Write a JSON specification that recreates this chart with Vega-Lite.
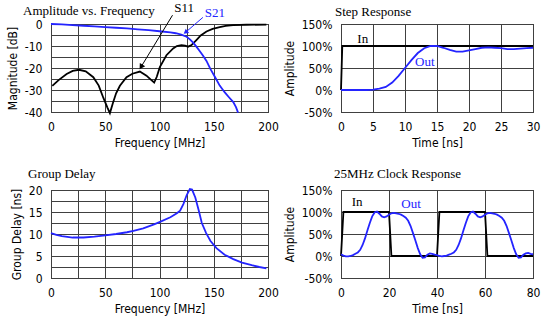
{
  "$schema": "https://vega.github.io/schema/vega-lite/v6.json",
  "padding": {"left": 5, "top": 1, "right": 5, "bottom": 5},
  "background": "white",
  "config": {
    "view": {"stroke": "black", "strokeWidth": 1},
    "axis": {
      "grid": true, "gridColor": "#404040", "gridOpacity": 1, "gridWidth": 1,
      "domain": false, "ticks": false, "tickCount": 50,
      "labelFont": "DejaVu Sans Condensed, Liberation Sans, sans-serif", "labelFontSize": 12, "labelColor": "black",
      "labelPadding": 9, "labelFlush": false, "labelOverlap": false,
      "titleFont": "DejaVu Sans Condensed, Liberation Sans, sans-serif", "titleFontSize": 12, "titleFontWeight": "normal",
      "titleColor": "black", "titlePadding": 5
    },
    "title": {"font": "Liberation Serif", "fontSize": 13, "fontWeight": "normal", "anchor": "start", "frame": "group", "color": "black", "offset": 5},
    "text": {"font": "Liberation Serif", "fontSize": 13}
  },
  "datasets": {
    "mag": [
      {"f": 1.2, "db": -28.1, "s": "S11"}, {"f": 7, "db": -25.5, "s": "S11"}, {"f": 14.4, "db": -22.7, "s": "S11"}, {"f": 20, "db": -21.3, "s": "S11"}, {"f": 25.8, "db": -20.8, "s": "S11"}, {"f": 32, "db": -21.5, "s": "S11"}, {"f": 39, "db": -24.2, "s": "S11"}, {"f": 44, "db": -28, "s": "S11"}, {"f": 48.2, "db": -33.5, "s": "S11"}, {"f": 52, "db": -38, "s": "S11"}, {"f": 54.3, "db": -40.5, "s": "S11"}, {"f": 57, "db": -36, "s": "S11"}, {"f": 60, "db": -31.5, "s": "S11"}, {"f": 63.5, "db": -28.1, "s": "S11"}, {"f": 69.6, "db": -24.2, "s": "S11"}, {"f": 75, "db": -22.6, "s": "S11"}, {"f": 81.9, "db": -21.6, "s": "S11"}, {"f": 88, "db": -23.5, "s": "S11"}, {"f": 92, "db": -25.3, "s": "S11"}, {"f": 95.1, "db": -26.6, "s": "S11"}, {"f": 97.5, "db": -24, "s": "S11"}, {"f": 100.3, "db": -19.6, "s": "S11"}, {"f": 106.4, "db": -14.2, "s": "S11"}, {"f": 112.6, "db": -11.1, "s": "S11"}, {"f": 116, "db": -10, "s": "S11"}, {"f": 120.2, "db": -9.6, "s": "S11"}, {"f": 123.5, "db": -9.8, "s": "S11"}, {"f": 126.4, "db": -10.3, "s": "S11"}, {"f": 129.5, "db": -9.6, "s": "S11"}, {"f": 134, "db": -7.3, "s": "S11"}, {"f": 138, "db": -5.2, "s": "S11"}, {"f": 143.3, "db": -3.4, "s": "S11"}, {"f": 149, "db": -2.2, "s": "S11"}, {"f": 155.5, "db": -1.4, "s": "S11"}, {"f": 161, "db": -0.9, "s": "S11"}, {"f": 167.8, "db": -0.5, "s": "S11"}, {"f": 180, "db": -0.35, "s": "S11"}, {"f": 198.5, "db": -0.3, "s": "S11"},
      {"f": 0, "db": 0, "s": "S21"}, {"f": 10, "db": -0.2, "s": "S21"}, {"f": 20, "db": -0.5, "s": "S21"}, {"f": 30, "db": -0.8, "s": "S21"}, {"f": 40, "db": -1.1, "s": "S21"}, {"f": 50, "db": -1.4, "s": "S21"}, {"f": 60, "db": -1.7, "s": "S21"}, {"f": 70, "db": -2.0, "s": "S21"}, {"f": 80, "db": -2.4, "s": "S21"}, {"f": 90, "db": -2.8, "s": "S21"}, {"f": 100, "db": -3.3, "s": "S21"}, {"f": 110, "db": -3.8, "s": "S21"}, {"f": 115, "db": -4.2, "s": "S21"}, {"f": 120, "db": -4.8, "s": "S21"}, {"f": 125, "db": -5.8, "s": "S21"}, {"f": 128, "db": -7, "s": "S21"}, {"f": 131, "db": -8.5, "s": "S21"}, {"f": 134, "db": -10.3, "s": "S21"}, {"f": 137, "db": -12.3, "s": "S21"}, {"f": 140, "db": -14.3, "s": "S21"}, {"f": 143.3, "db": -16.8, "s": "S21"}, {"f": 147, "db": -20.5, "s": "S21"}, {"f": 151, "db": -24, "s": "S21"}, {"f": 155.5, "db": -28, "s": "S21"}, {"f": 160, "db": -31, "s": "S21"}, {"f": 164, "db": -33.3, "s": "S21"}, {"f": 168, "db": -35.5, "s": "S21"}, {"f": 170.5, "db": -37.8, "s": "S21"}, {"f": 172.4, "db": -40.3, "s": "S21"}
    ],
    "magArrows": [
      {"s": "S11", "f0": 112, "db0": 4, "f1": 83, "db1": -19.5},
      {"s": "S21", "f0": 140, "db0": 3, "f1": 124, "db1": -3.8}
    ],
    "magLabels": [
      {"s": "S11", "f": 122.6, "db": 7.3, "text": "S11"},
      {"s": "S21", "f": 151, "db": 5, "text": "S21"}
    ],
    "step": [
      {"t": 0, "a": 0, "s": "In"}, {"t": 0.2, "a": 100, "s": "In"}, {"t": 30, "a": 100, "s": "In"},
      {"t": 0, "a": 0, "s": "Out"}, {"t": 4, "a": 0, "s": "Out"}, {"t": 5, "a": 1, "s": "Out"}, {"t": 6, "a": 3, "s": "Out"}, {"t": 7, "a": 7, "s": "Out"}, {"t": 8, "a": 17, "s": "Out"}, {"t": 9, "a": 32, "s": "Out"}, {"t": 10, "a": 50, "s": "Out"}, {"t": 11, "a": 68, "s": "Out"}, {"t": 12, "a": 84, "s": "Out"}, {"t": 13, "a": 95, "s": "Out"}, {"t": 14, "a": 100, "s": "Out"}, {"t": 15, "a": 100, "s": "Out"}, {"t": 16, "a": 96, "s": "Out"}, {"t": 17, "a": 91, "s": "Out"}, {"t": 18, "a": 87, "s": "Out"}, {"t": 19, "a": 87, "s": "Out"}, {"t": 20, "a": 90, "s": "Out"}, {"t": 21, "a": 93, "s": "Out"}, {"t": 22, "a": 96, "s": "Out"}, {"t": 23, "a": 97, "s": "Out"}, {"t": 24, "a": 96, "s": "Out"}, {"t": 25, "a": 95, "s": "Out"}, {"t": 26, "a": 93, "s": "Out"}, {"t": 27, "a": 93, "s": "Out"}, {"t": 28, "a": 94, "s": "Out"}, {"t": 29, "a": 95, "s": "Out"}, {"t": 30, "a": 96, "s": "Out"}
    ],
    "stepLabels": [
      {"s": "In", "t": 3.4, "a": 116, "text": "In"},
      {"s": "Out", "t": 13.1, "a": 63.6, "text": "Out"}
    ],
    "gd": [
      {"f": 0, "d": 10.2}, {"f": 5, "d": 9.8}, {"f": 10, "d": 9.5}, {"f": 20, "d": 9.2}, {"f": 30, "d": 9.2}, {"f": 40, "d": 9.4}, {"f": 50, "d": 9.7}, {"f": 60, "d": 10.0}, {"f": 70, "d": 10.4}, {"f": 76, "d": 10.7}, {"f": 85, "d": 11.3}, {"f": 95, "d": 12.2}, {"f": 101, "d": 12.8}, {"f": 110, "d": 13.8}, {"f": 116, "d": 14.7}, {"f": 119, "d": 15.3}, {"f": 122, "d": 16.8}, {"f": 125, "d": 18.8}, {"f": 128, "d": 20.2}, {"f": 130, "d": 20.1}, {"f": 133, "d": 18.3}, {"f": 136, "d": 15.5}, {"f": 139, "d": 12.5}, {"f": 143, "d": 10.2}, {"f": 147, "d": 8.4}, {"f": 152.5, "d": 6.8}, {"f": 160, "d": 5.3}, {"f": 168, "d": 4.3}, {"f": 176, "d": 3.5}, {"f": 185, "d": 2.9}, {"f": 192, "d": 2.5}, {"f": 198.5, "d": 2.2}
    ],
    "clock": [
      {"t": 0, "a": 0, "s": "In"}, {"t": 1, "a": 100, "s": "In"}, {"t": 20, "a": 100, "s": "In"}, {"t": 21, "a": 0, "s": "In"}, {"t": 40, "a": 0, "s": "In"}, {"t": 41, "a": 100, "s": "In"}, {"t": 60, "a": 100, "s": "In"}, {"t": 61, "a": 0, "s": "In"}, {"t": 80, "a": 0, "s": "In"},
      {"t": 0, "a": 4, "s": "Out"}, {"t": 1, "a": 1, "s": "Out"}, {"t": 2, "a": -1, "s": "Out"}, {"t": 3, "a": -1, "s": "Out"}, {"t": 4, "a": 0, "s": "Out"}, {"t": 5, "a": 2, "s": "Out"}, {"t": 6, "a": 5, "s": "Out"}, {"t": 7, "a": 8, "s": "Out"}, {"t": 8, "a": 14, "s": "Out"}, {"t": 9, "a": 25, "s": "Out"}, {"t": 10, "a": 40, "s": "Out"}, {"t": 11, "a": 58, "s": "Out"}, {"t": 12, "a": 75, "s": "Out"}, {"t": 13, "a": 90, "s": "Out"}, {"t": 14, "a": 99, "s": "Out"}, {"t": 15, "a": 101, "s": "Out"}, {"t": 16, "a": 96, "s": "Out"}, {"t": 17, "a": 90, "s": "Out"}, {"t": 18, "a": 88, "s": "Out"}, {"t": 19, "a": 90, "s": "Out"}, {"t": 20, "a": 94, "s": "Out"}, {"t": 21, "a": 97, "s": "Out"}, {"t": 22, "a": 98, "s": "Out"}, {"t": 23, "a": 97, "s": "Out"}, {"t": 24, "a": 96, "s": "Out"}, {"t": 25, "a": 94, "s": "Out"}, {"t": 26, "a": 91, "s": "Out"}, {"t": 27, "a": 87, "s": "Out"}, {"t": 28, "a": 80, "s": "Out"}, {"t": 29, "a": 68, "s": "Out"}, {"t": 30, "a": 52, "s": "Out"}, {"t": 31, "a": 35, "s": "Out"}, {"t": 32, "a": 18, "s": "Out"}, {"t": 33, "a": 4, "s": "Out"}, {"t": 34, "a": -4, "s": "Out"}, {"t": 35, "a": -3, "s": "Out"}, {"t": 36, "a": 3, "s": "Out"}, {"t": 37, "a": 6, "s": "Out"}, {"t": 38, "a": 5, "s": "Out"}, {"t": 39, "a": 3, "s": "Out"}, {"t": 40, "a": 2, "s": "Out"}, {"t": 41, "a": 0, "s": "Out"}, {"t": 42, "a": -1, "s": "Out"}, {"t": 43, "a": 0, "s": "Out"}, {"t": 44, "a": 1, "s": "Out"}, {"t": 45, "a": 3, "s": "Out"}, {"t": 46, "a": 5, "s": "Out"}, {"t": 47, "a": 8, "s": "Out"}, {"t": 48, "a": 14, "s": "Out"}, {"t": 49, "a": 25, "s": "Out"}, {"t": 50, "a": 40, "s": "Out"}, {"t": 51, "a": 58, "s": "Out"}, {"t": 52, "a": 75, "s": "Out"}, {"t": 53, "a": 90, "s": "Out"}, {"t": 54, "a": 99, "s": "Out"}, {"t": 55, "a": 101, "s": "Out"}, {"t": 56, "a": 96, "s": "Out"}, {"t": 57, "a": 90, "s": "Out"}, {"t": 58, "a": 88, "s": "Out"}, {"t": 59, "a": 90, "s": "Out"}, {"t": 60, "a": 94, "s": "Out"}, {"t": 61, "a": 97, "s": "Out"}, {"t": 62, "a": 98, "s": "Out"}, {"t": 63, "a": 97, "s": "Out"}, {"t": 64, "a": 96, "s": "Out"}, {"t": 65, "a": 94, "s": "Out"}, {"t": 66, "a": 91, "s": "Out"}, {"t": 67, "a": 87, "s": "Out"}, {"t": 68, "a": 80, "s": "Out"}, {"t": 69, "a": 68, "s": "Out"}, {"t": 70, "a": 52, "s": "Out"}, {"t": 71, "a": 35, "s": "Out"}, {"t": 72, "a": 18, "s": "Out"}, {"t": 73, "a": 4, "s": "Out"}, {"t": 74, "a": -4, "s": "Out"}, {"t": 75, "a": -3, "s": "Out"}, {"t": 76, "a": 3, "s": "Out"}, {"t": 77, "a": 6, "s": "Out"}, {"t": 78, "a": 7, "s": "Out"}, {"t": 79, "a": 5, "s": "Out"}, {"t": 80, "a": 4, "s": "Out"}
    ],
    "clockLabels": [
      {"s": "In", "t": 6.7, "a": 122, "text": "In"},
      {"s": "Out", "t": 29.2, "a": 118, "text": "Out"}
    ]
  },
  "columns": 2,
  "bounds": "flush",
  "spacing": {"row": 78, "column": 73},
  "concat": [
    {
      "width": 217, "height": 88,
      "title": {"text": "Amplitude vs. Frequency", "dx": -28, "frame": "group", "anchor": "start", "offset": -16},
      "layer": [
        {
          "data": {"name": "mag"},
          "mark": {"type": "line", "strokeWidth": 1.8},
          "encoding": {
            "x": {"field": "f", "type": "quantitative", "scale": {"domain": [0, 200], "nice": false},
                  "axis": {"title": "Frequency [MHz]", "values": [0, 25, 50, 75, 100, 125, 150, 175, 200], "labelExpr": "datum.value % 50 === 0 ? '' + datum.value : ''"}},
            "y": {"field": "db", "type": "quantitative", "scale": {"domain": [-40, 0], "nice": false},
                  "axis": {"title": "Magnitude [dB]", "values": [-40, -35, -30, -25, -20, -15, -10, -5, 0], "labelExpr": "datum.value % 10 === 0 ? '' + datum.value : ''"}},
            "color": {"field": "s", "type": "nominal", "scale": {"domain": ["S11", "S21"], "range": ["black", "#2424ff"]}, "legend": null},
            "order": {"field": "f"}
          }
        },
        {
          "data": {"name": "magArrows"},
          "mark": {"type": "rule", "strokeWidth": 1},
          "encoding": {
            "x": {"field": "f0", "type": "quantitative"},
            "y": {"field": "db0", "type": "quantitative"},
            "x2": {"field": "f1"},
            "y2": {"field": "db1"},
            "color": {"field": "s", "type": "nominal", "legend": null}
          }
        },
        {
          "data": {"name": "magArrows"},
          "transform": [{"filter": "datum.s === 'S11'"}],
          "mark": {"type": "point", "shape": "triangle-up", "filled": true, "size": 40, "angle": 212, "opacity": 1},
          "encoding": {
            "x": {"field": "f1", "type": "quantitative"},
            "y": {"field": "db1", "type": "quantitative"},
            "color": {"field": "s", "type": "nominal", "legend": null}
          }
        },
        {
          "data": {"name": "magArrows"},
          "transform": [{"filter": "datum.s === 'S21'"}],
          "mark": {"type": "point", "shape": "triangle-up", "filled": true, "size": 30, "angle": 232, "opacity": 1},
          "encoding": {
            "x": {"field": "f1", "type": "quantitative"},
            "y": {"field": "db1", "type": "quantitative"},
            "color": {"field": "s", "type": "nominal", "legend": null}
          }
        },
        {
          "data": {"name": "magLabels"},
          "mark": {"type": "text"},
          "encoding": {
            "x": {"field": "f", "type": "quantitative"},
            "y": {"field": "db", "type": "quantitative"},
            "text": {"field": "text"},
            "color": {"field": "s", "type": "nominal", "legend": null}
          }
        }
      ]
    },
    {
      "width": 192, "height": 88,
      "title": {"text": "Step Response", "dx": -6, "frame": "group", "anchor": "start", "offset": -0.5},
      "layer": [
        {
          "data": {"name": "step"},
          "mark": {"type": "line", "strokeWidth": 1.8},
          "encoding": {
            "x": {"field": "t", "type": "quantitative", "scale": {"domain": [0, 30], "nice": false},
                  "axis": {"title": "Time [ns]", "values": [0, 5, 10, 15, 20, 25, 30], "labelExpr": "'' + datum.value"}},
            "y": {"field": "a", "type": "quantitative", "scale": {"domain": [-50, 150], "nice": false},
                  "axis": {"title": "Amplitude", "values": [-50, 0, 50, 100, 150], "labelExpr": "datum.value + '%'"}},
            "color": {"field": "s", "type": "nominal", "scale": {"domain": ["In", "Out"], "range": ["black", "#2424ff"]}, "legend": null},
            "order": {"field": "t"}
          }
        },
        {
          "data": {"name": "stepLabels"},
          "mark": {"type": "text"},
          "encoding": {
            "x": {"field": "t", "type": "quantitative"},
            "y": {"field": "a", "type": "quantitative"},
            "text": {"field": "text"},
            "color": {"field": "s", "type": "nominal", "legend": null}
          }
        }
      ]
    },
    {
      "width": 217, "height": 88,
      "title": {"text": "Group Delay", "dx": -23, "frame": "group", "anchor": "start", "offset": 3},
      "data": {"name": "gd"},
      "mark": {"type": "line", "strokeWidth": 1.8, "color": "#2424ff"},
      "encoding": {
        "x": {"field": "f", "type": "quantitative", "scale": {"domain": [0, 200], "nice": false},
              "axis": {"title": "Frequency [MHz]", "values": [0, 25, 50, 75, 100, 125, 150, 175, 200], "labelExpr": "datum.value % 50 === 0 ? '' + datum.value : ''"}},
        "y": {"field": "d", "type": "quantitative", "scale": {"domain": [0, 20], "nice": false},
              "axis": {"title": "Group Delay [ns]", "values": [0, 2.5, 5, 7.5, 10, 12.5, 15, 17.5, 20], "labelExpr": "datum.value % 5 === 0 ? '' + datum.value : ''"}}
      }
    },
    {
      "width": 192, "height": 88,
      "title": {"text": "25MHz Clock Response", "dx": -7, "frame": "group", "anchor": "start", "offset": 3},
      "layer": [
        {
          "data": {"name": "clock"},
          "mark": {"type": "line", "strokeWidth": 1.8},
          "encoding": {
            "x": {"field": "t", "type": "quantitative", "scale": {"domain": [0, 80], "nice": false},
                  "axis": {"title": "Time [ns]", "values": [0, 20, 40, 60, 80], "labelExpr": "'' + datum.value"}},
            "y": {"field": "a", "type": "quantitative", "scale": {"domain": [-50, 150], "nice": false},
                  "axis": {"title": "Amplitude", "values": [-50, 0, 50, 100, 150], "labelExpr": "datum.value + '%'"}},
            "color": {"field": "s", "type": "nominal", "scale": {"domain": ["In", "Out"], "range": ["black", "#2424ff"]}, "legend": null},
            "order": {"field": "t"}
          }
        },
        {
          "data": {"name": "clockLabels"},
          "mark": {"type": "text"},
          "encoding": {
            "x": {"field": "t", "type": "quantitative"},
            "y": {"field": "a", "type": "quantitative"},
            "text": {"field": "text"},
            "color": {"field": "s", "type": "nominal", "legend": null}
          }
        }
      ]
    }
  ]
}
